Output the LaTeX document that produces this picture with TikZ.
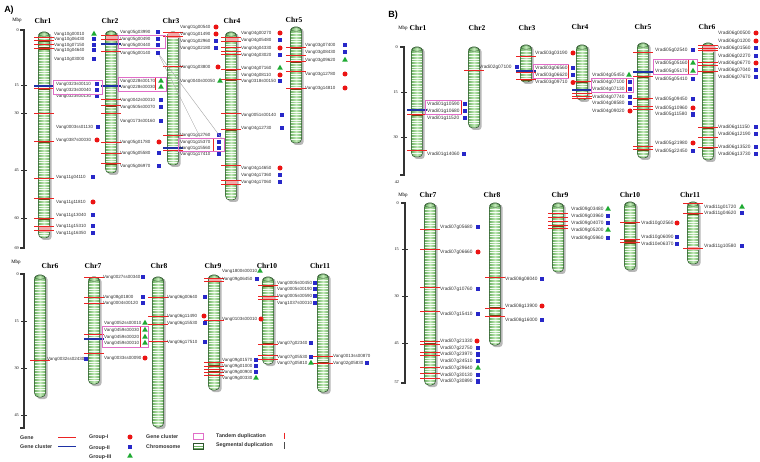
\documentclass[tikz,border=0pt]{standalone}
\usepackage{fontspec}
\setmainfont{Liberation Serif}
\newfontfamily\gfont{Liberation Sans}
\usetikzlibrary{shapes.geometric}
\definecolor{chrL}{RGB}{195,235,185}
\definecolor{chrD}{RGB}{110,178,100}
\definecolor{chrO}{RGB}{45,85,45}
\definecolor{bred}{RGB}{235,35,35}
\definecolor{bbrown}{RGB}{115,70,20}
\definecolor{bblue}{RGB}{30,50,165}
\definecolor{mkred}{RGB}{235,20,20}
\definecolor{mkblue}{RGB}{40,40,200}
\definecolor{mkgreen}{RGB}{30,170,50}
\definecolor{pinkb}{RGB}{225,110,200}
\definecolor{pinkf}{RGB}{240,170,170}
\newcommand\gfs{4.5}
\tikzset{
  glab/.style={anchor=west, inner sep=0pt, text=black!80, font=\gfont\fontsize{\gfs}{5}\selectfont},
  gI/.style={circle, fill=mkred, inner sep=0pt, minimum size=5pt},
  gII/.style={rectangle, fill=mkblue, inner sep=0pt, minimum size=4.3pt},
  gIII/.style={regular polygon, regular polygon sides=3, fill=mkgreen, inner sep=0pt, minimum size=6.5pt},
  chrlab/.style={inner sep=0pt, font=\bfseries\fontsize{7.5}{8}\selectfont},
  axlab/.style={inner sep=0pt, font=\fontsize{4.2}{5}\selectfont},
  mbplab/.style={inner sep=0pt, font=\fontsize{5}{6}\selectfont},
  axisl/.style={black!80, line width=1.2pt},
  pinkbox/.style={draw=pinkb, line width=0.6pt},
  tandem/.style={draw=bred, line width=0.8pt},
  segl/.style={draw=black!35, line width=0.4pt},
  leglab/.style={anchor=west, inner sep=0pt, text=black!80, font=\gfont\bfseries\fontsize{5.3}{6}\selectfont},
  panlab/.style={inner sep=0pt, font=\gfont\bfseries\fontsize{9}{10}\selectfont}
}
\newcommand\mychr[4]{%
  \fill[black!28, rounded corners=3pt] (#2-3,#3+1.5) rectangle (#2+7.5,#4+2);
  \begin{scope}
    \clip[rounded corners=4pt] (#2-5.5,#3) rectangle (#2+5.5,#4);
    \shade[left color=chrD, right color=chrD, middle color=chrL] (#2-5.5,#3) rectangle (#2+5.5,#4);
    \pgfmathtruncatemacro\nst{(#4-#3-6)/2.7}
    \foreach \k in {1,...,\nst} \draw[white, opacity=0.9, line width=0.9pt] (#2-6,#3+4+\k*2.7) -- (#2+6,#3+4+\k*2.7);
  \end{scope}
  \draw[chrO, line width=0.5pt, rounded corners=4pt] (#2-5.5,#3) rectangle (#2+5.5,#4);
  \draw[chrO, line width=0.4pt] (#2,#3+2.5) ellipse (5.3pt and 1.8pt);
  \coordinate (#1) at (#2,#3);}
\newcommand\myred[2]{\draw[bred, line width=1pt] (#1-10,#2) -- (#1+10,#2);}
\newcommand\mybrown[2]{\fill[bbrown] (#1-5.5,#2-1.4) rectangle (#1+5.5,#2+1.4);\draw[bred, line width=1pt] (#1-10,#2) -- (#1+10,#2);}
\newcommand\myblue[2]{\draw[bblue, line width=1.8pt] (#1-10,#2) -- (#1+10,#2);}
\newcommand\mypink[3]{\fill[pinkf] (#1-5.5,#2) rectangle (#1+5.5,#3);}
\newcommand\mygene[5]{\node[glab] (#3) at (#1,#2) {#3};\node[#5] (m-#3) at (#4,#2) {};}
\begin{document}
\begin{tikzpicture}[x=1pt, y=-1pt]
\useasboundingbox (0,0) rectangle (760,462);
\fill[white] (0,0) rectangle (760,462);

% ================= PANEL A =================
\node[panlab] (pA) at (9,10) {A)};
\node[mbplab] (mbpA1) at (17,20) {Mbp};
\draw[axisl] (20,30) -- (24,30) -- (24,248) -- (20,248);
\foreach \yy/\lab in {85/15,113/30,170/45,218/60} {\draw[axisl, line width=0.8pt] (21,\yy) -- (27,\yy);}
\foreach \yy/\lab in {30/0,85/15,113/30,170/45,218/60,248/69} {\node[axlab, anchor=east] (tA\lab) at (19,\yy) {\lab};}

\node[chrlab] (lA1) at (43,21) {Chr1};
\node[chrlab] (lA2) at (110,21) {Chr2};
\node[chrlab] (lA3) at (171,21) {Chr3};
\node[chrlab] (lA4) at (232,21) {Chr4};
\node[chrlab] (lA5) at (294,20) {Chr5};

\mychr{cA1}{44}{32}{238}
\mychr{cA2}{111}{31}{173}
\mychr{cA3}{173}{32}{165}
\mychr{cA4}{231}{32}{200}
\mychr{cA5}{296}{27}{143}

% bands Chr1
\mypink{44}{226}{232}
\myred{44}{38}\mybrown{44}{41}\myred{44}{45}\mybrown{44}{48.5}
\myblue{44}{86}\mybrown{44}{89}\myred{44}{114}\mybrown{44}{142}
\myred{44}{179}\mybrown{44}{199}\mybrown{44}{219}\myred{44}{227}\myred{44}{231}
% bands Chr2
\mypink{111}{36}{41}
\myred{111}{36}\myred{111}{40}\myblue{111}{44}\myred{111}{52}\myblue{111}{86}
\myred{111}{100}\mybrown{111}{106}\myred{111}{114}\myred{111}{143}\myred{111}{154}\mybrown{111}{164}
% bands Chr3
\mypink{173}{33}{38}
\myred{173}{33}\myred{173}{37}\myred{173}{67}\myred{173}{136}\myblue{173}{148}\myred{173}{151}
% bands Chr4
\mypink{231}{38}{42}
\myred{231}{38}\myred{231}{42}\myred{231}{48}\myred{231}{52}\myred{231}{55}
\mybrown{231}{70}\mybrown{231}{80}\myred{231}{114}\mybrown{231}{130}
\myred{231}{166}\mypink{231}{181}{185}\myred{231}{181}\myred{231}{185}
% bands Chr5
\mybrown{296}{48}\myred{296}{56}\mybrown{296}{62}\myred{296}{72}\mybrown{296}{89}

% genes Chr1
\mygene{54}{34}{Vang10g00010}{94}{gIII}
\mygene{54}{39}{Vang10g06430}{94}{gII}
\mygene{54}{45}{Vang10g07150}{94}{gII}
\mygene{54}{50}{Vang10g04640}{94}{gII}
\mygene{54}{59}{Vang10g03000}{94}{gII}
\mygene{56}{84}{Vang0323s00110}{97}{gII}
\mygene{56}{90}{Vang0323s00040}{97}{gII}
\mygene{56}{96}{Vang0323s00130}{97}{gII}
\mygene{56}{127}{Vang0003ss01130}{98}{gII}
\mygene{56}{140}{Vang0387s00030}{97}{gI}
\mygene{56}{177}{Vang11g04110}{93}{gII}
\mygene{56}{202}{Vang11g11810}{93}{gI}
\mygene{56}{215}{Vang11g13040}{93}{gII}
\mygene{56}{226}{Vang11g15310}{93}{gII}
\mygene{56}{233}{Vang11g16350}{93}{gII}
\draw[pinkbox] (53,80) rectangle (102,94);
% genes Chr2
\mygene{120}{32}{Vang05g03990}{158}{gII}
\mygene{120}{39}{Vang05g00490}{158}{gII}
\mygene{120}{45}{Vang05g00440}{158}{gII}
\mygene{120}{53}{Vang05g00140}{158}{gII}
\mygene{120}{81}{Vang0228s00170}{161}{gIII}
\mygene{120}{87}{Vang0228s00030}{161}{gIII}
\mygene{120}{100}{Vang0042s00010}{161}{gII}
\mygene{120}{107}{Vang0505s00070}{161}{gII}
\mygene{120}{121}{Vang0173s00160}{161}{gII}
\mygene{120}{142}{Vang05g01780}{159}{gI}
\mygene{120}{153}{Vang05g05580}{159}{gII}
\mygene{120}{166}{Vang05g06970}{159}{gII}
\draw[pinkbox] (118,35.5) rectangle (165,48.5);
\draw[pinkbox] (118,77) rectangle (166,91);
\draw[tandem] (155,78) -- (155,90);
% genes Chr3
\mygene{180}{27}{Vang01g00540}{216}{gI}
\mygene{180}{34}{Vang01g01490}{216}{gI}
\mygene{180}{41}{Vang01g02960}{216}{gII}
\mygene{180}{48}{Vang01g02180}{216}{gII}
\mygene{180}{67}{Vang01g03800}{218}{gI}
\mygene{180}{81}{Vang0040s00050}{220}{gIII}
\mygene{180}{135}{Vang01g12760}{219}{gII}
\mygene{180}{142}{Vang01g15370}{219}{gII}
\mygene{180}{148}{Vang01g15560}{219}{gII}
\mygene{180}{154}{Vang01g17410}{219}{gII}
\draw[pinkbox] (178,138.5) rectangle (224,151.5);
\draw[tandem] (213,139) -- (213,151);
\coordinate (sA1) at (200,137);
\coordinate (sA2) at (222,139);
\draw[segl] (m-Vang05g00140) -- (sA1);
\draw[segl] (m-Vang05g00140) -- (sA2);
% genes Chr4
\mygene{241}{33}{Vang04g00270}{280}{gI}
\mygene{241}{40}{Vang04g05480}{280}{gII}
\mygene{241}{48}{Vang04g04330}{280}{gI}
\mygene{241}{55}{Vang04g03020}{280}{gII}
\mygene{241}{68}{Vang04g07160}{280}{gIII}
\mygene{241}{75}{Vang04g08110}{280}{gI}
\mygene{241}{81}{Vang0318s00150}{280}{gII}
\mygene{241}{115}{Vang0051s00140}{282}{gII}
\mygene{241}{128}{Vang04g12730}{282}{gII}
\mygene{241}{168}{Vang04g14650}{280}{gI}
\mygene{241}{175}{Vang04g17360}{280}{gII}
\mygene{241}{182}{Vang04g17060}{280}{gII}
% genes Chr5
\mygene{305}{45}{Vang03g07400}{345}{gII}
\mygene{305}{52}{Vang03g08430}{345}{gII}
\mygene{305}{60}{Vang03g09620}{345}{gIII}
\mygene{305}{74}{Vang03g12780}{345}{gI}
\mygene{305}{88}{Vang03g14810}{345}{gI}

% ---- A bottom ----
\node[mbplab] (mbpA2) at (16,262) {Mbp};
\draw[axisl] (20,274) -- (24,274) -- (24,428) -- (20,428);
\foreach \yy/\lab in {321/15,368/30,415/45} {\draw[axisl, line width=0.8pt] (21,\yy) -- (27,\yy);}
\foreach \yy/\lab in {274/0,321/15,368/30,415/45} {\node[axlab, anchor=east] (tB\lab) at (19,\yy) {\lab};}

\node[chrlab] (lA6) at (50,266) {Chr6};
\node[chrlab] (lA7) at (93,266) {Chr7};
\node[chrlab] (lA8) at (159,266) {Chr8};
\node[chrlab] (lA9) at (213,266) {Chr9};
\node[chrlab] (lA10) at (267,266) {Chr10};
\node[chrlab] (lA11) at (320,266) {Chr11};

\mychr{cA6}{40}{275}{397}
\mychr{cA7}{94}{277}{384}
\mychr{cA8}{158}{277}{427}
\mychr{cA9}{214}{275}{390}
\mychr{cA10}{268}{277}{364}
\mychr{cA11}{323}{274}{392}

\myred{40}{360}
\myred{94}{278}\myred{94}{297}\myred{94}{303}\myred{94}{334}\myblue{94}{339}\myred{94}{353}
\myred{158}{297}\myred{158}{316}\myred{158}{324}\myred{158}{341}
\mypink{214}{279}{282}\myred{214}{279}\myred{214}{282}\myred{214}{320}\myred{214}{362}\mybrown{214}{366}\myred{214}{369}\mybrown{214}{372}\myred{214}{375}
\mybrown{268}{286}\mypink{268}{296}{299}\myred{268}{296}\myred{268}{299}\mybrown{268}{344}\myred{268}{355}\myred{268}{359}
\myred{323}{356}\mybrown{323}{363}

\mygene{47}{359}{Vang0032ss02430}{86}{gII}
\mygene{103}{277}{Vang0027ss00340}{143}{gII}
\mygene{103}{297}{Vang08g01800}{143}{gII}
\mygene{103}{303}{Vang0004s00120}{143}{gII}
\mygene{104}{323}{Vang0052ss00010}{145}{gIII}
\mygene{104}{330}{Vang0459s00030}{145}{gIII}
\mygene{104}{337}{Vang0459s00020}{145}{gIII}
\mygene{104}{343}{Vang0459s00010}{145}{gIII}
\mygene{104}{358}{Vang0033ss00090}{145}{gI}
\draw[pinkbox] (102,326.5) rectangle (148,347);
\draw[tandem] (140,327) -- (140,346.5);
\mygene{167}{297}{Vang06g00640}{205}{gII}
\mygene{167}{316}{Vang06g11490}{204}{gI}
\mygene{167}{323}{Vang06g15530}{205}{gII}
\mygene{167}{342}{Vang06g17510}{205}{gII}
\mygene{222}{271}{Vang1800s00010}{260}{gIII}
\mygene{222}{279}{Vang09g06450}{257}{gII}
\mygene{222}{319}{Vang0103s00010}{261}{gI}
\mygene{222}{360}{Vang09g01570}{256}{gII}
\mygene{222}{366}{Vang09g01000}{256}{gII}
\mygene{222}{372}{Vang09g00900}{256}{gII}
\mygene{222}{378}{Vang09g00330}{256}{gIII}
\mygene{277}{283}{Vang0005s00450}{315}{gII}
\mygene{277}{289}{Vang0005s00190}{315}{gII}
\mygene{277}{296}{Vang0005s00590}{315}{gII}
\mygene{277}{303}{Vang1037s00010}{315}{gII}
\mygene{277}{343}{Vang07g02340}{311}{gII}
\mygene{277}{357}{Vang07g05530}{311}{gII}
\mygene{277}{363}{Vang07g05810}{311}{gIII}
\node[glab] (Vang0013ss00870) at (333,356) {Vang0013ss00870};
\mygene{333}{363}{Vang02g05830}{367}{gII}

% ---- legend ----
\node[leglab] (lgGene) at (20,438) {Gene};
\coordinate (lgG1) at (58,437.5); \coordinate (lgG2) at (76,437.5);
\draw[bred, line width=1pt] (lgG1) -- (lgG2);
\node[leglab] (lgClu) at (20,447) {Gene cluster};
\coordinate (lgC1) at (58,446.5); \coordinate (lgC2) at (76,446.5);
\draw[bblue, line width=1pt] (lgC1) -- (lgC2);
\node[leglab] (lgI) at (89,437) {Group-I};
\node[gI] (lgmI) at (130,437) {};
\node[leglab] (lgII) at (89,448) {Group-II};
\node[gII] (lgmII) at (130,447) {};
\node[leglab] (lgIII) at (89,457) {Group-III};
\node[gIII] (lgmIII) at (130,456) {};
\node[leglab] (lgClu2) at (146,437) {Gene cluster};
\draw[pinkbox] (193,433) rectangle (203,439.5);
\node[leglab] (lgChr) at (146,447) {Chromosome};
\begin{scope}
  \clip (193,443) rectangle (203,449.5);
  \fill[chrD] (193,443) rectangle (203,449.5);
  \foreach \k in {0,...,3} \draw[white, line width=0.7pt] (193,444+\k*1.7) -- (203,444+\k*1.7);
\end{scope}
\draw[chrO, line width=0.5pt] (193,443) rectangle (203,449.5);
\node[leglab] (lgTan) at (216,436) {Tandem duplication};
\draw[tandem] (284,432.5) -- (284,439);
\node[leglab] (lgSeg) at (216,445) {Segmental duplication};
\draw[black!70, line width=0.8pt] (284,442) -- (284,448.5);

% ================= PANEL B =================
\renewcommand\gfs{4.8}
\node[panlab] (pB) at (393,15) {B)};
\node[mbplab] (mbpB1) at (403,28) {Mbp};
\draw[axisl] (400,47) -- (404,47) -- (404,175) -- (400,175);
\foreach \yy/\lab in {92/15,137/30} {\draw[axisl, line width=0.8pt] (401,\yy) -- (407,\yy);}
\foreach \yy/\lab in {47/0,92/15,137/30} {\node[axlab, anchor=east] (tC\lab) at (398,\yy) {\lab};}
\node[axlab] (tC42) at (397,182) {42};

\node[chrlab] (lB1) at (418,28) {Chr1};
\node[chrlab] (lB2) at (477,28) {Chr2};
\node[chrlab] (lB3) at (527,28) {Chr3};
\node[chrlab] (lB4) at (580,27) {Chr4};
\node[chrlab] (lB5) at (643,27) {Chr5};
\node[chrlab] (lB6) at (707,27) {Chr6};

\mychr{cB1}{417}{47}{157}
\mychr{cB2}{474}{47}{128}
\mychr{cB3}{526}{45}{82}
\mychr{cB4}{582}{45}{100}
\mychr{cB5}{643}{43}{158}
\mychr{cB6}{708}{43}{160}

\myblue{417}{110}\mybrown{417}{115}\myred{417}{151}
\myred{474}{71}
\myred{526}{57}\myblue{526}{71}\myred{526}{73}\mybrown{526}{80}
\mybrown{582}{82}\myblue{582}{90}\myred{582}{94}\myred{582}{97}\myred{582}{99}
\myred{643}{53}\myblue{643}{72}\mybrown{643}{77}\mybrown{643}{99}\myred{643}{107}\myred{643}{109.5}\myred{643}{147}\mybrown{643}{150}
\mypink{708}{45}{52}\myred{708}{46}\myred{708}{48.5}\myred{708}{51}\myred{708}{63}\myred{708}{65.5}\mybrown{708}{72}\mybrown{708}{128}\myred{708}{138}\mybrown{708}{148}

\mygene{427}{104}{Vradi01g10590}{465}{gII}
\mygene{427}{111}{Vradi01g10680}{465}{gII}
\mygene{427}{118}{Vradi01g11520}{465}{gII}
\mygene{427}{154}{Vradi01g14060}{464}{gII}
\draw[pinkbox] (425,100.5) rectangle (461.5,114.5);
\draw[tandem] (461.5,101) -- (461.5,114);
\mygene{479}{67}{Vradi02g07100}{517}{gII}
\mygene{535}{53}{Vradi03g03190}{573}{gI}
\mygene{535}{68}{Vradi03g06560}{573}{gII}
\mygene{535}{75}{Vradi03g06620}{573}{gII}
\mygene{535}{82.5}{Vradi03g09710}{573}{gI}
\draw[pinkbox] (533,64.5) rectangle (568.5,78.5);
\draw[tandem] (568.5,65) -- (568.5,78);
\mygene{592}{75}{Vradi04g05450}{629}{gIII}
\mygene{592}{82}{Vradi04g07100}{630}{gII}
\mygene{592}{89}{Vradi04g07130}{630}{gII}
\mygene{592}{97}{Vradi04g07740}{630}{gII}
\mygene{592}{103}{Vradi04g08580}{630}{gII}
\mygene{592}{111}{Vradi04g09020}{630}{gI}
\draw[pinkbox] (591,78.5) rectangle (633,92.5);
\draw[tandem] (626.5,79) -- (626.5,92);
\mygene{655}{50}{Vradi05g02540}{693}{gII}
\mygene{655}{63}{Vradi05g05160}{693}{gIII}
\mygene{655}{71}{Vradi05g05170}{693}{gIII}
\mygene{655}{79}{Vradi05g05410}{693}{gII}
\mygene{655}{99}{Vradi05g09450}{693}{gII}
\mygene{655}{108}{Vradi05g10960}{693}{gI}
\mygene{655}{114.5}{Vradi05g11580}{693}{gII}
\mygene{655}{143}{Vradi05g21980}{693}{gI}
\mygene{655}{151}{Vradi05g22450}{693}{gII}
\draw[pinkbox] (653,59.5) rectangle (697,74.5);
\draw[tandem] (688.5,60) -- (688.5,74);
\mygene{718}{33}{Vradi06g00500}{756}{gI}
\mygene{718}{41}{Vradi06g01200}{756}{gI}
\mygene{718}{48}{Vradi06g01560}{756}{gII}
\mygene{718}{56}{Vradi06g02270}{756}{gII}
\mygene{718}{63}{Vradi06g06770}{756}{gI}
\mygene{718}{70}{Vradi06g07040}{756}{gII}
\mygene{718}{77}{Vradi06g07670}{756}{gII}
\mygene{718}{127}{Vradi06g11150}{756}{gII}
\mygene{718}{134}{Vradi06g12190}{756}{gII}
\mygene{718}{147}{Vradi06g13520}{756}{gII}
\mygene{718}{154}{Vradi06g13730}{756}{gII}

% ---- B bottom ----
\node[mbplab] (mbpB2) at (403,195) {Mbp};
\draw[axisl] (401,203) -- (405,203) -- (405,383) -- (401,383);
\foreach \yy/\lab in {249/15,296/30,343/45} {\draw[axisl, line width=0.8pt] (402,\yy) -- (408,\yy);}
\foreach \yy/\lab in {203/0,249/15,296/30,343/45,382/57} {\node[axlab, anchor=east] (tD\lab) at (399,\yy) {\lab};}

\node[chrlab] (lB7) at (428,195) {Chr7};
\node[chrlab] (lB8) at (492,195) {Chr8};
\node[chrlab] (lB9) at (560,195) {Chr9};
\node[chrlab] (lB10) at (630,195) {Chr10};
\node[chrlab] (lB11) at (690,195) {Chr11};

\mychr{cB7}{430}{203}{385}
\mychr{cB8}{495}{203}{345}
\mychr{cB9}{558}{203}{272}
\mychr{cB10}{630}{202}{270}
\mychr{cB11}{693}{202}{264}

\myred{430}{230}\myred{430}{250}\myred{430}{288}\myred{430}{311}\myred{430}{341}\mybrown{430}{344}\myred{430}{352}\myred{430}{355}\myred{430}{367}\myred{430}{373}\myred{430}{378}
\myred{495}{278}\mybrown{495}{308}\mybrown{495}{316}
\myred{558}{214}\myred{558}{218}\myred{558}{222}\mybrown{558}{226}\myred{558}{229}
\mybrown{630}{223}\mybrown{630}{240}\mybrown{630}{242.5}
\myred{693}{204}\mybrown{693}{214}\mypink{693}{247.5}{250.5}\myred{693}{249}

\mygene{440}{227}{Vradi07g05680}{478}{gII}
\mygene{440}{252}{Vradi07g06660}{478}{gI}
\mygene{440}{289}{Vradi07g10760}{478}{gII}
\mygene{440}{314}{Vradi07g15410}{478}{gII}
\mygene{440}{341}{Vradi07g21330}{477}{gI}
\mygene{440}{348}{Vradi07g22750}{478}{gII}
\mygene{440}{354.5}{Vradi07g23970}{478}{gII}
\mygene{440}{361}{Vradi07g24510}{478}{gII}
\mygene{440}{368}{Vradi07g29640}{478}{gIII}
\mygene{440}{375}{Vradi07g30130}{478}{gII}
\mygene{440}{381.5}{Vradi07g30890}{478}{gII}
\mygene{505}{279}{Vradi08g08040}{542}{gII}
\mygene{505}{306}{Vradi08g13900}{542}{gI}
\mygene{505}{320}{Vradi08g16000}{542}{gII}
\mygene{571}{209}{Vradi09g03480}{608}{gIII}
\mygene{571}{216}{Vradi09g03960}{608}{gII}
\mygene{571}{223}{Vradi09g04070}{608}{gII}
\mygene{571}{230}{Vradi09g05200}{608}{gIII}
\mygene{571}{238}{Vradi09g05960}{608}{gII}
\mygene{641}{223}{Vradi10g02560}{677}{gI}
\mygene{641}{237}{Vradi10g06090}{677}{gII}
\mygene{641}{244}{Vradi10e06370}{677}{gII}
\mygene{704}{207}{Vradi11g01720}{742}{gIII}
\mygene{704}{213}{Vradi11g04620}{742}{gII}
\mygene{704}{246}{Vradi11g10580}{742}{gII}
\end{tikzpicture}
\end{document}
